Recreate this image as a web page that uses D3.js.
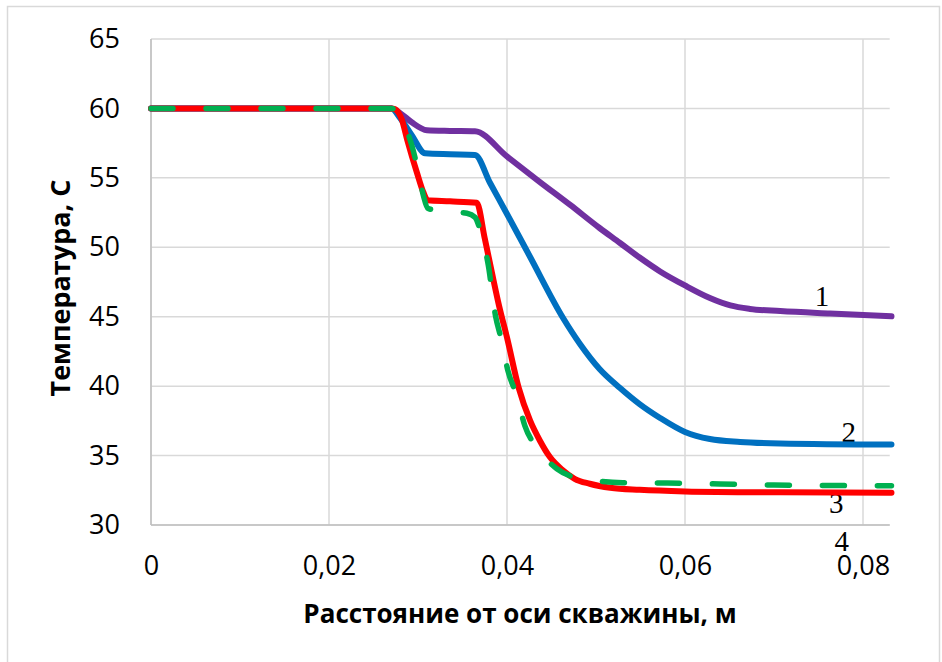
<!DOCTYPE html>
<html>
<head>
<meta charset="utf-8">
<script src="https://cdn.jsdelivr.net/npm/d3@7/dist/d3.min.js"></script>
<style>
  html, body { margin: 0; padding: 0; background: #fff; }
  svg { display: block; }
</style>
</head>
<body>
<svg id="chart" width="942" height="662"></svg>
<script>
// Temperature profiles vs. distance from the well axis
const xTicks = [0, 0.02, 0.04, 0.06, 0.08];
const xTickLabels = ["0", "0,02", "0,04", "0,06", "0,08"];
const yTicks = [30, 35, 40, 45, 50, 55, 60, 65];

// Curve 1 (purple)
const dist1 = [0, 0.010, 0.020, 0.0270, 0.0280, 0.0293, 0.0310, 0.0336, 0.0364, 0.0400, 0.0437, 0.0471, 0.0504, 0.0527, 0.0549, 0.0572, 0.0600, 0.0628, 0.0651, 0.0673, 0.0707, 0.0763, 0.0832];
const temp1 = [60, 60, 60, 60, 59.66, 59.0, 58.43, 58.38, 58.35, 56.54, 54.70, 53.05, 51.39, 50.31, 49.26, 48.26, 47.25, 46.35, 45.81, 45.56, 45.41, 45.23, 45.03];

// Curve 2 (blue)
const dist2 = [0, 0.010, 0.020, 0.0270, 0.0280, 0.0293, 0.0308, 0.0336, 0.0364, 0.0381, 0.0400, 0.0426, 0.0463, 0.0482, 0.0504, 0.0527, 0.0549, 0.0572, 0.0600, 0.0628, 0.0662, 0.0707, 0.0832];
const temp2 = [60, 60, 60, 60, 59.3, 58.07, 56.77, 56.70, 56.65, 54.63, 52.40, 49.30, 44.91, 43.04, 41.24, 39.87, 38.71, 37.71, 36.70, 36.19, 35.98, 35.87, 35.79];

// Curve 3 (red)
const dist3 = [0, 0.010, 0.020, 0.0270, 0.0274, 0.0282, 0.0288, 0.0299, 0.0306, 0.0311, 0.0336, 0.0366, 0.0375, 0.0383, 0.0391, 0.0400, 0.0413, 0.0426, 0.0437, 0.0448, 0.0462, 0.0476, 0.0493, 0.0516, 0.0549, 0.0600, 0.0707, 0.0832];
const temp3 = [60, 60, 60, 60, 59.95, 59.16, 57.71, 55.33, 53.96, 53.38, 53.31, 53.2, 50.64, 48.19, 45.81, 43.5, 39.91, 37.51, 36.07, 34.91, 33.98, 33.33, 32.97, 32.68, 32.53, 32.42, 32.35, 32.32];

// Curve 4 (green, dashed)
const dist4 = [0, 0.010, 0.020, 0.0270, 0.0276, 0.0285, 0.0293, 0.0300, 0.0306, 0.0311, 0.0321, 0.0355, 0.0364, 0.0370, 0.0379, 0.0387, 0.0394, 0.0401, 0.0411, 0.0420, 0.0434, 0.0456, 0.0479, 0.0530, 0.0580, 0.0700, 0.0832];
const temp4 = [60, 60, 60, 60, 59.8, 58.8, 57.35, 55.55, 53.74, 52.81, 52.66, 52.45, 52.16, 51.2, 48.7, 45.09, 43.28, 41.12, 39.31, 37.15, 35.56, 34.05, 33.4, 33.05, 33.02, 32.88, 32.82];

const seriesNames = ["1", "2", "3", "4"];
const seriesColors = ["#7030A0", "#0070C0", "#FF0000", "#00B050"];

// Curve number annotations (data coordinates)
const labelX = [0.0754, 0.0784, 0.0770, 0.0776];
const labelY = [45.78, 35.95, 30.9, 28.1];

const svg = d3.select("#chart");

// Outer chart frame
svg.append("rect")
  .attr("x", 7.5).attr("y", 6.5)
  .attr("width", 932).attr("height", 670)
  .attr("fill", "none").attr("stroke", "#d9d9d9").attr("stroke-width", 1.5);

const x = d3.scaleLinear().domain([0, 0.08]).range([151, 863]);
const xMax = 0.083;
const y = d3.scaleLinear().domain([30, 65]).range([525, 39]);

// Gridlines
const grid = svg.append("g");
grid.selectAll("line.h").data(yTicks).join("line")
  .attr("x1", x(0)).attr("x2", x(xMax))
  .attr("y1", d => y(d)).attr("y2", d => y(d))
  .attr("stroke", "#d9d9d9").attr("stroke-width", 1.5);
grid.selectAll("line.v").data(xTicks).join("line")
  .attr("x1", d => x(d)).attr("x2", d => x(d))
  .attr("y1", y(30)).attr("y2", y(65))
  .attr("stroke", "#d9d9d9").attr("stroke-width", 1.5);

// Axis lines
svg.append("line")
  .attr("x1", x(0)).attr("x2", x(xMax)).attr("y1", y(30)).attr("y2", y(30))
  .attr("stroke", "#bfbfbf").attr("stroke-width", 1.5);
svg.append("line")
  .attr("x1", x(0)).attr("x2", x(0)).attr("y1", y(30)).attr("y2", y(65))
  .attr("stroke", "#bfbfbf").attr("stroke-width", 1.5);

// Y axis tick labels
const yAxis = d3.axisLeft(y).tickValues(yTicks).tickSize(0).tickPadding(31);
const gy = svg.append("g").attr("transform", `translate(${x(0)},0)`).call(yAxis);
gy.select(".domain").remove();
gy.selectAll("text")
  .attr("font-family", "'Open Sans', sans-serif").attr("font-size", 27).attr("fill", "#000");

// X axis tick labels
const xAxis = d3.axisBottom(x).tickValues(xTicks).tickFormat((d, i) => xTickLabels[i]).tickSize(0).tickPadding(31);
const gx = svg.append("g").attr("transform", `translate(0,${y(30)})`).call(xAxis);
gx.select(".domain").remove();
gx.selectAll("text")
  .attr("font-family", "'Open Sans', sans-serif").attr("font-size", 27).attr("fill", "#000");

// Axis titles
svg.append("text")
  .attr("x", 520).attr("y", 623)
  .attr("text-anchor", "middle")
  .attr("font-family", "'Open Sans', sans-serif").attr("font-weight", "bold").attr("font-size", 26)
  .text("Расстояние от оси скважины, м");
svg.append("text")
  .attr("transform", "translate(70,288) rotate(-90)")
  .attr("text-anchor", "middle")
  .attr("font-family", "'Open Sans', sans-serif").attr("font-weight", "bold").attr("font-size", 27)
  .text("Температура, С");

// Curve number labels
svg.append("g").selectAll("text").data(seriesNames).join("text")
  .attr("x", (d, i) => x(labelX[i])).attr("y", (d, i) => y(labelY[i]))
  .attr("text-anchor", "middle")
  .attr("font-family", "'Liberation Serif', 'Times New Roman', serif").attr("font-size", 29)
  .attr("fill", "#000")
  .text(d => d);

// Curves
const series = [
  { xs: dist1, ys: temp1 },
  { xs: dist2, ys: temp2 },
  { xs: dist3, ys: temp3 },
  { xs: dist4, ys: temp4 }
];
const line = d3.line()
  .x(d => x(d[0])).y(d => y(d[1]))
  .curve(d3.curveMonotoneX);

series.forEach((s, i) => {
  const pts = s.xs.map((v, k) => [v, s.ys[k]]);
  const p = svg.append("path")
    .datum(pts)
    .attr("d", line)
    .attr("fill", "none")
    .attr("stroke", seriesColors[i])
    .attr("stroke-width", i === 3 ? 5.5 : 6)
    .attr("stroke-linejoin", "round")
    .attr("stroke-linecap", "round");
  if (i === 3) p.attr("stroke-dasharray", "22,33");
});
</script>
</body>
</html>
